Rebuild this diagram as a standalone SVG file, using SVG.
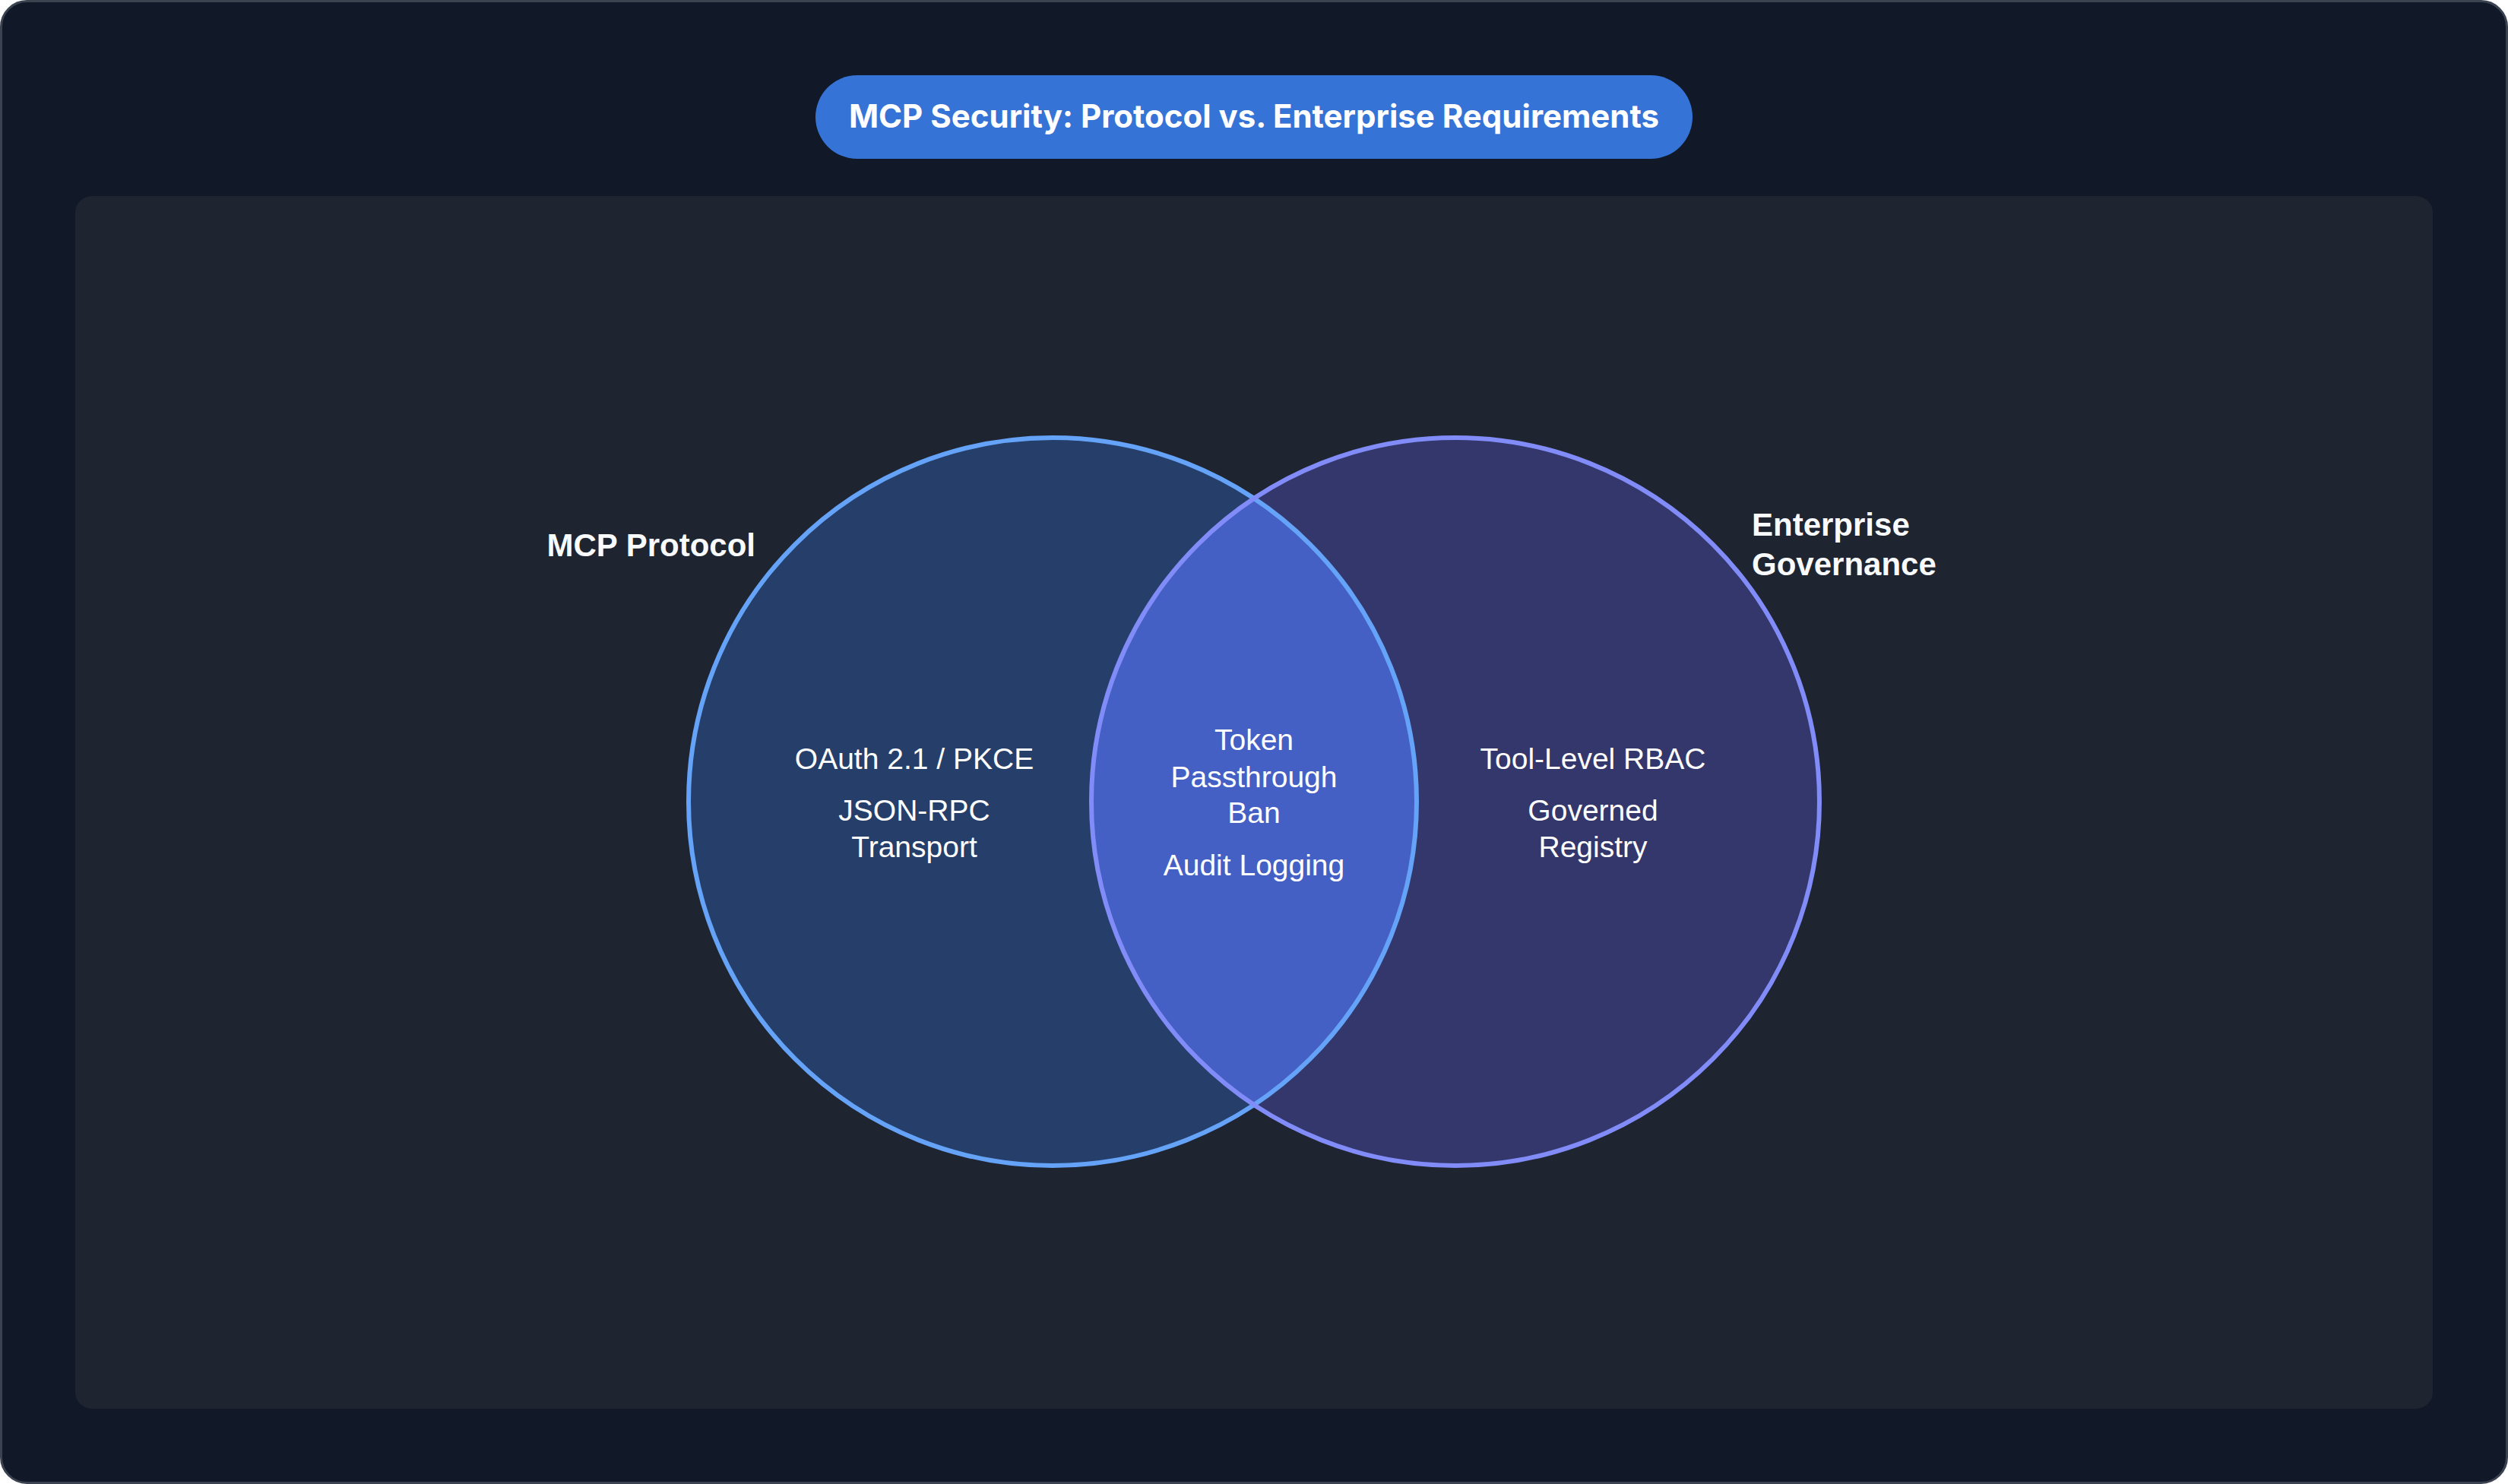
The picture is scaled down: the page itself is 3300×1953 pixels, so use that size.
<svg xmlns="http://www.w3.org/2000/svg" width="3300" height="1953" viewBox="0 0 3300 1953">
  <defs>
    <style>
      .lbl { font-family: "Liberation Sans", Arial, sans-serif; font-weight: 700; font-size: 42px; fill: #f8fafc; }
      .item { font-family: "Liberation Sans", Arial, sans-serif; font-size: 39px; fill: #ffffff; text-anchor: middle; }
      .title { font-family: Inter, "Noto Sans", sans-serif; font-weight: 700; font-size: 42px; fill: #ffffff; text-anchor: middle; }
    </style>
    <clipPath id="clipLeft">
      <circle cx="1385" cy="1055" r="479"/>
    </clipPath>
  </defs>

  <rect x="1.5" y="1.5" width="3297" height="1950" rx="34" fill="#111827" stroke="#3b4250" stroke-width="3"/>
  <rect x="99" y="258" width="3102" height="1596" rx="22" fill="#1f2431"/>

  <g id="title">
    <rect x="1073" y="99" width="1154" height="110" rx="55" fill="#3573d6"/>
    <text class="title" x="1650" y="168">MCP Security: Protocol vs. Enterprise Requirements</text>
  </g>

  <g id="mcp-protocol">
    <circle cx="1385" cy="1055" r="479" fill="#253f6a"/>
  </g>
  <g id="enterprise-governance">
    <circle cx="1915" cy="1055" r="479" fill="#33376b"/>
  </g>
  <g id="intersection">
    <circle cx="1915" cy="1055" r="479" fill="#4560c4" clip-path="url(#clipLeft)"/>
  </g>
  <g id="outlines" fill="none" stroke-width="6">
    <circle cx="1385" cy="1055" r="479" stroke="#64a3f8"/>
    <circle cx="1915" cy="1055" r="479" stroke="#818cf8"/>
  </g>

  <g id="labels">
    <text class="lbl" x="994" y="732" text-anchor="end">MCP Protocol</text>
    <text class="lbl" x="2305" y="705">Enterprise</text>
    <text class="lbl" x="2305" y="757">Governance</text>
  </g>

  <g id="left-items">
    <text class="item" x="1203" y="1012">OAuth 2.1 / PKCE</text>
    <text class="item" x="1203" y="1080">JSON-RPC</text>
    <text class="item" x="1203" y="1128">Transport</text>
  </g>
  <g id="center-items">
    <text class="item" x="1650" y="987">Token</text>
    <text class="item" x="1650" y="1036">Passthrough</text>
    <text class="item" x="1650" y="1083">Ban</text>
    <text class="item" x="1650" y="1152">Audit Logging</text>
  </g>
  <g id="right-items">
    <text class="item" x="2096" y="1012">Tool-Level RBAC</text>
    <text class="item" x="2096" y="1080">Governed</text>
    <text class="item" x="2096" y="1128">Registry</text>
  </g>
</svg>
